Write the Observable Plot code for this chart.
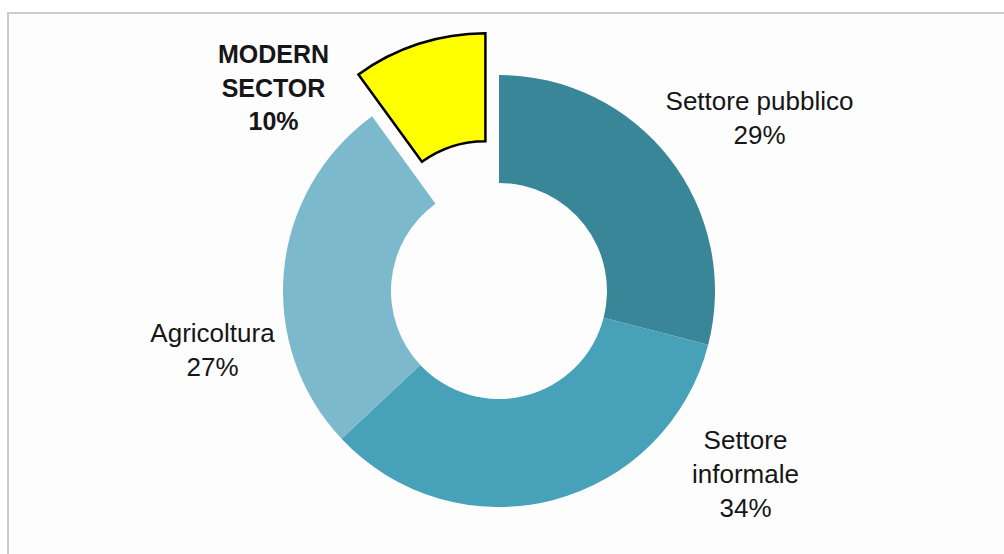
<!DOCTYPE html>
<html>
<head>
<meta charset="utf-8">
<script src="https://cdn.jsdelivr.net/npm/d3@7"></script>
<script src="https://cdn.jsdelivr.net/npm/@observablehq/plot@0.6"></script>
<style>
  html, body { margin: 0; padding: 0; background: #ffffff; }
  #wrap { position: relative; width: 1004px; height: 554px; overflow: hidden; }
  #frame { position: absolute; left: 7px; top: 12px; right: 0; bottom: 0;
           border-top: 2px solid #cccccc; border-left: 2px solid #cccccc; background: #fdfdfd; }
  #chart { position: absolute; left: 0; top: 0; }
  #chart svg { background: transparent; }
</style>
</head>
<body>
<div id="wrap"><div id="frame"></div><div id="chart"></div></div>
<script>
// ---- data ----
const categories = ["Settore pubblico", "Settore informale", "Agricoltura", "MODERN SECTOR"];
const values = [29, 34, 27, 10];
const labels = ["Settore pubblico\n29%", "Settore\ninformale\n34%", "Agricoltura\n27%", "MODERN\nSECTOR\n10%"];

// ---- styling / layout (not data) ----
const colors = ["#3a8699", "#47a1b8", "#7cb9cd", "#ffff00"];
const exploded = [false, false, false, true];
const highlight = [false, false, false, true];
const labelDx = [260, 246, -287, -226];   // label anchors relative to donut centre (px units)
const labelDy = [175.5, -180.7, -57, 205.5];
const W = 1004, H = 554, CX = 499, CY = 291;
const R_OUT = 216, R_IN = 108, EXPLODE = 44;

const rows = categories.map((c, i) => ({
  category: c, value: values[i], label: labels[i], color: colors[i],
  exploded: exploded[i], bold: highlight[i], lx: labelDx[i], ly: labelDy[i]
}));

function donut(index, scales) {
  const x = scales.x, y = scales.y;
  const cx = x(0), cy = y(0);
  const rOut = x(R_OUT) - x(0), rIn = x(R_IN) - x(0), ex = x(EXPLODE) - x(0);
  const pie = d3.pie().sort(null).value(d => d.value)(rows);
  const arc = d3.arc().innerRadius(rIn).outerRadius(rOut);
  const g = d3.create("svg:g");
  pie.forEach(p => {
    const d = p.data;
    const mid = (p.startAngle + p.endAngle) / 2;
    const ox = d.exploded ? Math.sin(mid) * ex : 0;
    const oy = d.exploded ? -Math.cos(mid) * ex : 0;
    g.append("path")
      .attr("d", arc(p))
      .attr("transform", `translate(${cx + ox},${cy + oy})`)
      .attr("fill", d.color)
      .attr("stroke", d.bold ? "#000" : "none")
      .attr("stroke-width", d.bold ? 2.5 : 0)
      .attr("stroke-linejoin", "miter");
  });
  return g.node();
}

const plot = Plot.plot({
  width: W, height: H,
  margin: 0,
  x: { domain: [-CX, W - CX], axis: null },
  y: { domain: [CY - H, CY], axis: null },
  marks: [
    donut,
    Plot.text(rows.filter(d => !d.bold), {
      x: "lx", y: "ly", text: "label",
      fontSize: 26, lineHeight: 1.31, fill: "#161616",
      fontFamily: "Liberation Sans, Arial, sans-serif"
    }),
    Plot.text(rows.filter(d => d.bold), {
      x: "lx", y: "ly", text: "label",
      fontSize: 25, lineHeight: 1.33, fill: "#161616", fontWeight: "bold",
      fontFamily: "Liberation Sans, Arial, sans-serif"
    })
  ],
  style: { background: "transparent" }
});
document.getElementById("chart").appendChild(plot);
</script>
</body>
</html>
